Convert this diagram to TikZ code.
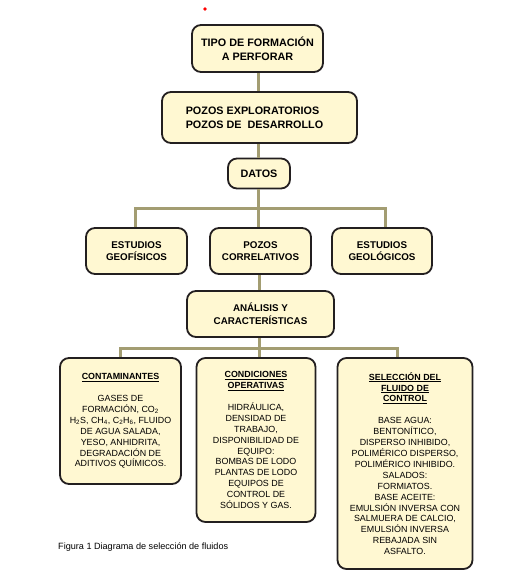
\documentclass[tikz,border=0pt]{standalone}
\usepackage{fontspec}
\setmainfont{Liberation Sans}
\definecolor{boxfill}{RGB}{255,248,210}
\definecolor{boxline}{RGB}{35,31,32}
\definecolor{connc}{RGB}{163,157,114}
\begin{document}
\begin{tikzpicture}[x=1pt,y=-1pt,
  box/.style={draw=boxline, fill=boxfill, line width=1.8pt, rounded corners=9pt, inner sep=0pt, align=center},
  bigtxt/.style={font=\bfseries\fontsize{10.8}{14}\selectfont},
  midtxt/.style={font=\bfseries\fontsize{9.8}{12.6}\selectfont},
  smalltxt/.style={font=\fontsize{8.9}{10.9}\selectfont},
  conn/.style={draw=connc, line width=3pt}]
\useasboundingbox (0,0) rectangle (515,579);
\fill[red] (205,9) circle (1.8pt);
% junction points of the connector bars
\coordinate (b1) at (258.3,208.3);
\coordinate (b2) at (259,348.3);
% boxes
\node[box, bigtxt, minimum width=131pt, minimum height=47pt] (top) at (257.5,48.5) {TIPO DE FORMACIÓN\\A PERFORAR};
\node[box, minimum width=195pt, minimum height=51pt] (pozos) at (259.5,117.5) {};
\node[bigtxt, align=left, inner sep=0pt] (pozostxt) at (254.5,117.5) {POZOS EXPLORATORIOS\\POZOS DE\ \ DESARROLLO};
\node[box, bigtxt, minimum width=62pt, minimum height=30pt] (datos) at (259,173.5) {DATOS};
\node[box, midtxt, minimum width=101pt, minimum height=46pt] (geof) at (136.5,251) {ESTUDIOS\\GEOFÍSICOS};
\node[box, midtxt, minimum width=101pt, minimum height=46pt] (correl) at (260.5,251) {POZOS\\CORRELATIVOS};
\node[box, midtxt, minimum width=100pt, minimum height=46pt] (geol) at (382,251) {ESTUDIOS\\GEOLÓGICOS};
\node[box, midtxt, minimum width=147pt, minimum height=46pt] (anal) at (260.5,314) {ANÁLISIS Y\\CARACTERÍSTICAS};
\node[box, smalltxt, minimum width=121pt, minimum height=126pt] (cont) at (120.5,421) {\underline{\textbf{CONTAMINANTES}}\\[11pt]
GASES DE\\FORMACIÓN, CO\textsubscript{2}\\H\textsubscript{2}S, CH\textsubscript{4}, C\textsubscript{2}H\textsubscript{6}, FLUIDO\\DE AGUA SALADA,\\YESO, ANHIDRITA,\\DEGRADACIÓN DE\\ADITIVOS QUÍMICOS.};
\node[box, smalltxt, minimum width=119pt, minimum height=164pt] (cond) at (256,440) {\underline{\textbf{CONDICIONES}}\\\underline{\textbf{OPERATIVAS}}\\[11pt]
HIDRÁULICA,\\DENSIDAD DE\\TRABAJO,\\DISPONIBILIDAD DE\\EQUIPO:\\BOMBAS DE LODO\\PLANTAS DE LODO\\EQUIPOS DE\\CONTROL DE\\SÓLIDOS Y GAS.};
\node[box, smalltxt, minimum width=135pt, minimum height=211pt] (sel) at (405,463.5) {\underline{\textbf{SELECCIÓN DEL}}\\\underline{\textbf{FLUIDO DE}}\\\underline{\textbf{CONTROL}}\\[11pt]
BASE AGUA:\\BENTONÍTICO,\\DISPERSO INHIBIDO,\\POLIMÉRICO DISPERSO,\\POLIMÉRICO INHIBIDO.\\SALADOS:\\FORMIATOS.\\BASE ACEITE:\\EMULSIÓN INVERSA CON\\SALMUERA DE CALCIO,\\EMULSIÓN INVERSA\\REBAJADA SIN\\ASFALTO.};
\node[font=\fontsize{9.1}{11}\selectfont, anchor=base west, inner sep=0pt] (cap) at (58,549.5) {Figura 1 Diagrama de selección de fluidos};
% connectors drawn between box borders
\draw[conn] (top.south -| b1) -- (pozos.north -| b1);
\draw[conn] (pozos.south -| b1) -- (datos.north -| b1);
\draw[conn] (datos.south -| b1) -- (correl.north -| b1);
\draw[conn] (geof.north -| 135,0) |- (b1) -| (geol.north -| 385.5,0);
\draw[conn] (correl.south -| b2) -- (anal.north -| b2);
\draw[conn] (anal.south -| b2) -- (cond.north -| b2);
\draw[conn] (cont.north) |- (b2) -| (sel.north -| 397,0);
\end{tikzpicture}
\end{document}
